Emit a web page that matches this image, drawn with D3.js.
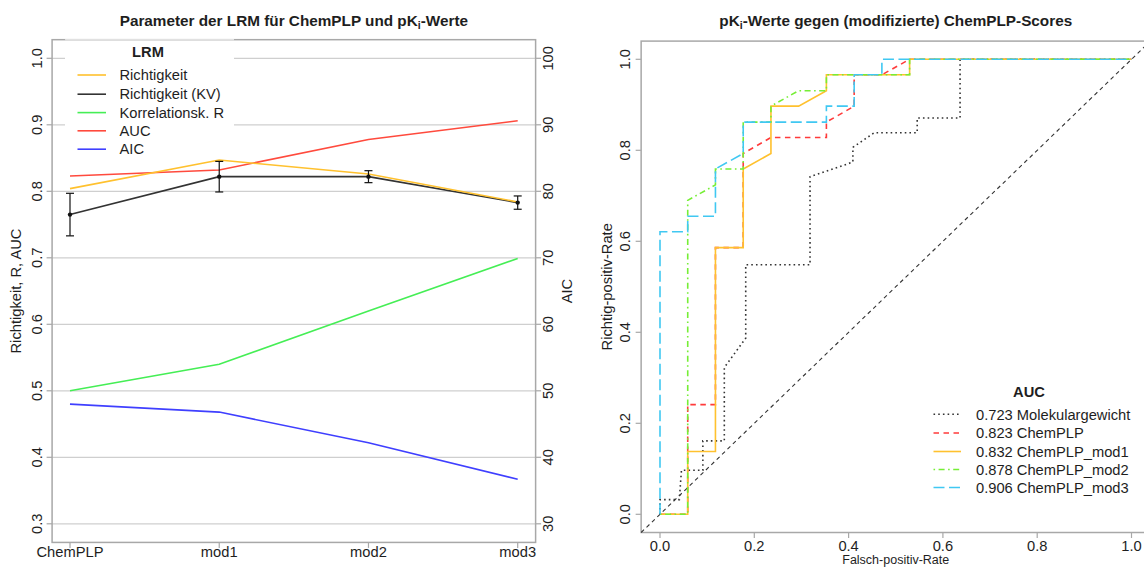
<!DOCTYPE html>
<html>
<head>
<meta charset="utf-8">
<script src="https://cdn.jsdelivr.net/npm/d3@7"></script>
<style>
  html, body { margin: 0; padding: 0; background: #fff; }
  svg { display: block; font-family: "Liberation Sans", Arial, Helvetica, sans-serif; }
</style>
</head>
<body>
<svg id="chart" width="1144" height="567"></svg>
<script>
// ---- Left panel: LRM parameters per scoring variant ----
const categories = ["ChemPLP", "mod1", "mod2", "mod3"];
const richtigkeit = [0.804, 0.847, 0.826, 0.784];
const richtigkeitKV = [0.765, 0.822, 0.822, 0.783];
const richtigkeitKVsd = [0.032, 0.023, 0.009, 0.010];
const korrelationR = [0.500, 0.540, 0.620, 0.699];
const aucLRM = [0.823, 0.832, 0.878, 0.906];
const aicValues = [48.0, 46.8, 42.2, 36.7];
const leftTicks = [0.3, 0.4, 0.5, 0.6, 0.7, 0.8, 0.9, 1.0];
const aicTicks = [30, 40, 50, 60, 70, 80, 90, 100];

// ---- Right panel: ROC curves (false positive rate, true positive rate) ----
const rocMolekulargewicht = [[0,0],[0,0.0323],[0.041,0.0323],[0.0455,0.0968],[0.0909,0.0968],[0.0909,0.1613],
  [0.1364,0.1613],[0.1364,0.3226],[0.1818,0.3871],[0.1818,0.5484],[0.3182,0.5484],[0.3182,0.7419],
  [0.4091,0.7742],[0.4091,0.8065],[0.4545,0.8387],[0.5455,0.8387],[0.5455,0.871],[0.6364,0.871],[0.6364,1],[1,1]];
const rocChemPLP = [[0,0],[0.0588,0],[0.0588,0.241],[0.1176,0.241],[0.1176,0.586],[0.1765,0.586],[0.1765,0.793],
  [0.2353,0.828],[0.3529,0.828],[0.3529,0.862],[0.4118,0.897],[0.4118,0.966],[0.4706,0.966],[0.5294,1],[1,1]];
const rocMod1 = [[0,0],[0.0588,0],[0.0588,0.138],[0.1176,0.138],[0.1176,0.586],[0.1765,0.586],[0.1765,0.759],
  [0.2353,0.793],[0.2353,0.897],[0.2941,0.897],[0.3529,0.931],[0.3529,0.966],[0.5294,0.966],[0.5294,1],[1,1]];
const rocMod2 = [[0,0],[0.0588,0],[0.0588,0.690],[0.1176,0.724],[0.1176,0.759],[0.1765,0.759],[0.1765,0.862],
  [0.2353,0.862],[0.2353,0.897],[0.2941,0.931],[0.3529,0.931],[0.3529,0.966],[0.5294,0.966],[0.5294,1],[1,1]];
const rocMod3 = [[0,0],[0,0.621],[0.0588,0.621],[0.0588,0.655],[0.1176,0.655],[0.1176,0.759],[0.1765,0.793],
  [0.1765,0.862],[0.3529,0.862],[0.3529,0.897],[0.4118,0.897],[0.4118,0.966],[0.4706,0.966],[0.4706,1],[1,1]];
const rocNames = ["Molekulargewicht", "ChemPLP", "ChemPLP_mod1", "ChemPLP_mod2", "ChemPLP_mod3"];
const rocAUC = ["0.723", "0.823", "0.832", "0.878", "0.906"];
const rocTicks = [0, 0.2, 0.4, 0.6, 0.8, 1.0];

const svg = d3.select("#chart");
const TXT = "#1e1e1e", BOX = "#a8a8a8", GRID = "#cfcfcf";
const FS = 14.7;

function vText(g, x, y, str, opts = {}) {
  // vertical text reading bottom to top, x is the baseline position
  return g.append("text")
    .attr("x", x).attr("y", y)
    .attr("transform", `rotate(-90,${x},${y})`)
    .attr("text-anchor", "middle")
    .attr("font-size", opts.size || FS)
    .attr("fill", TXT)
    .text(str);
}

// ================= LEFT PANEL =================
const L = svg.append("g");
const xL = d3.scalePoint().domain(categories).range([70, 517.7]);
const yL = d3.scaleLinear().domain([0.3, 1.0]).range([523.8, 58.3]);
const yAIC = d3.scaleLinear().domain([30, 100]).range([523.8, 58.3]);
const stepL = xL.step();
const boxL = { x0: 70 - 0.12 * stepL, x1: 517.7 + 0.12 * stepL, y0: yL(1.028), y1: yL(0.272) };

// horizontal grid
L.selectAll(".grid").data(leftTicks).enter().append("line")
  .attr("x1", boxL.x0).attr("x2", boxL.x1)
  .attr("y1", d => yL(d)).attr("y2", d => yL(d))
  .attr("stroke", GRID).attr("stroke-width", 1.2);

// legend background (covers the grid)
L.append("rect").attr("x", 65).attr("y", boxL.y0 + 0.4).attr("width", 169).attr("height", 157 - boxL.y0)
  .attr("fill", "#fff");

// box
L.append("rect").attr("x", boxL.x0).attr("y", boxL.y0)
  .attr("width", boxL.x1 - boxL.x0).attr("height", boxL.y1 - boxL.y0)
  .attr("fill", "none").attr("stroke", BOX).attr("stroke-width", 1.5);
L.append("line").attr("x1", boxL.x0 + 13).attr("x2", 234).attr("y1", boxL.y0).attr("y2", boxL.y0)
  .attr("stroke", "#fff").attr("stroke-width", 0.8);

// left axis
const axL = L.append("g");
axL.selectAll("line").data(leftTicks).enter().append("line")
  .attr("x1", boxL.x0 - 5.5).attr("x2", boxL.x0)
  .attr("y1", d => yL(d)).attr("y2", d => yL(d)).attr("stroke", BOX).attr("stroke-width", 1.2);
leftTicks.forEach(t => vText(axL, 42.5, yL(t), d3.format(".1f")(t)));
vText(L, 21, (boxL.y0 + boxL.y1) / 2, "Richtigkeit, R, AUC");

// right axis (AIC)
const axR = L.append("g");
axR.selectAll("line").data(aicTicks).enter().append("line")
  .attr("x1", boxL.x1).attr("x2", boxL.x1 + 5.5)
  .attr("y1", d => yAIC(d)).attr("y2", d => yAIC(d)).attr("stroke", BOX).attr("stroke-width", 1.2);
aicTicks.forEach(t => vText(axR, 553, yAIC(t), String(t)));
vText(L, 572, (boxL.y0 + boxL.y1) / 2, "AIC");

// bottom axis
const axB = L.append("g");
axB.selectAll("line").data(categories).enter().append("line")
  .attr("x1", d => xL(d)).attr("x2", d => xL(d))
  .attr("y1", boxL.y1).attr("y2", boxL.y1 + 5.5).attr("stroke", BOX).attr("stroke-width", 1.2);
axB.selectAll("text").data(categories).enter().append("text")
  .attr("x", d => xL(d)).attr("y", 557)
  .attr("text-anchor", "middle").attr("font-size", FS).attr("fill", TXT)
  .text(d => d);

// title
L.append("text").attr("x", (boxL.x0 + boxL.x1) / 2).attr("y", 25.5)
  .attr("text-anchor", "middle").attr("font-size", 15.3).attr("font-weight", "bold").attr("fill", TXT)
  .call(t => {
    t.append("tspan").text("Parameter der LRM für ChemPLP und pK");
    t.append("tspan").attr("font-size", 10.5).attr("dy", 3).text("i");
    t.append("tspan").attr("dy", -3).text("-Werte");
  });

// series lines
const lineL = (vals, ys) => d3.line().x((d, i) => xL(categories[i])).y(d => ys(d))(vals);
const leftSeries = [
  { name: "Richtigkeit", vals: richtigkeit, color: "#FFC12E", scale: yL },
  { name: "Richtigkeit (KV)", vals: richtigkeitKV, color: "#333333", scale: yL },
  { name: "Korrelationsk. R", vals: korrelationR, color: "#45EE55", scale: yL },
  { name: "AUC", vals: aucLRM, color: "#FF4A3D", scale: yL },
  { name: "AIC", vals: aicValues, color: "#3F3FFF", scale: yAIC }
];
// draw order: green, blue, red, black, orange on top
[2, 4, 3, 1, 0].forEach(k => {
  const s = leftSeries[k];
  L.append("path").attr("d", lineL(s.vals, s.scale))
    .attr("fill", "none").attr("stroke", s.color).attr("stroke-width", 1.6);
});

// error bars for cross-validated accuracy
const eb = L.append("g");
richtigkeitKV.forEach((v, i) => {
  const x = xL(categories[i]);
  const lo = yL(v - richtigkeitKVsd[i]), hi = yL(v + richtigkeitKVsd[i]);
  eb.append("line").attr("x1", x).attr("x2", x).attr("y1", lo).attr("y2", hi).attr("stroke", "#111").attr("stroke-width", 1.2);
  eb.append("line").attr("x1", x - 4).attr("x2", x + 4).attr("y1", lo).attr("y2", lo).attr("stroke", "#111").attr("stroke-width", 1.2);
  eb.append("line").attr("x1", x - 4).attr("x2", x + 4).attr("y1", hi).attr("y2", hi).attr("stroke", "#111").attr("stroke-width", 1.2);
  eb.append("circle").attr("cx", x).attr("cy", yL(v)).attr("r", 2.2).attr("fill", "#111");
});

// legend
const lgL = L.append("g");
lgL.append("text").attr("x", 148).attr("y", 57).attr("text-anchor", "middle")
  .attr("font-size", FS).attr("font-weight", "bold").attr("fill", TXT).text("LRM");
const lgRowsL = [75, 94.2, 112.6, 130.8, 149.2];
leftSeries.forEach((s, i) => {
  lgL.append("line").attr("x1", 77.5).attr("x2", 106).attr("y1", lgRowsL[i]).attr("y2", lgRowsL[i])
    .attr("stroke", s.color).attr("stroke-width", 1.6);
  lgL.append("text").attr("x", 119.5).attr("y", lgRowsL[i] + 5.2)
    .attr("font-size", FS).attr("fill", TXT).text(s.name);
});

// ================= RIGHT PANEL =================
const R = svg.append("g");
const xR = d3.scaleLinear().domain([0, 1]).range([660, 1131.5]);
const yR = d3.scaleLinear().domain([0, 1]).range([514.3, 59.3]);
const boxR = { x0: xR(-0.04), x1: xR(1.04), y0: yR(1.04), y1: yR(-0.04) };

R.append("rect").attr("x", boxR.x0).attr("y", boxR.y0)
  .attr("width", boxR.x1 - boxR.x0).attr("height", boxR.y1 - boxR.y0)
  .attr("fill", "none").attr("stroke", BOX).attr("stroke-width", 1.5);

// axes
R.selectAll(".yt").data(rocTicks).enter().append("line")
  .attr("x1", boxR.x0 - 5.5).attr("x2", boxR.x0)
  .attr("y1", d => yR(d)).attr("y2", d => yR(d)).attr("stroke", BOX).attr("stroke-width", 1.2);
rocTicks.forEach(t => vText(R, 630.5, yR(t), d3.format(".1f")(t)));
R.selectAll(".xt").data(rocTicks).enter().append("line")
  .attr("x1", d => xR(d)).attr("x2", d => xR(d))
  .attr("y1", boxR.y1).attr("y2", boxR.y1 + 5.5).attr("stroke", BOX).attr("stroke-width", 1.2);
R.selectAll(".xl").data(rocTicks).enter().append("text")
  .attr("x", d => xR(d)).attr("y", 551)
  .attr("text-anchor", "middle").attr("font-size", FS).attr("fill", TXT)
  .text(d => d3.format(".1f")(d));
vText(R, 612, (boxR.y0 + boxR.y1) / 2, "Richtig-positiv-Rate");
R.append("text").attr("x", (boxR.x0 + boxR.x1) / 2).attr("y", 564.3)
  .attr("text-anchor", "middle").attr("font-size", 12.5).attr("fill", TXT).text("Falsch-positiv-Rate");

// title
R.append("text").attr("x", (boxR.x0 + boxR.x1) / 2).attr("y", 25.5)
  .attr("text-anchor", "middle").attr("font-size", 15.3).attr("font-weight", "bold").attr("fill", TXT)
  .call(t => {
    t.append("tspan").text("pK");
    t.append("tspan").attr("font-size", 10.5).attr("dy", 3).text("i");
    t.append("tspan").attr("dy", -3).text("-Werte gegen (modifizierte) ChemPLP-Scores");
  });

// diagonal reference
R.append("line")
  .attr("x1", xR(-0.04)).attr("y1", yR(-0.04)).attr("x2", xR(1.04)).attr("y2", yR(1.04))
  .attr("stroke", "#333333").attr("stroke-width", 1.1).attr("stroke-dasharray", "4,3.5");

const rocStyles = [
  { data: rocMolekulargewicht, color: "#333333", dash: "1.6,3.1", w: 1.6 },
  { data: rocChemPLP, color: "#FF3B3B", dash: "5.5,4.5", w: 1.6 },
  { data: rocMod1, color: "#FFC12E", dash: null, w: 1.6 },
  { data: rocMod2, color: "#76EE36", dash: "1.6,3.5,6,3.5", w: 1.6 },
  { data: rocMod3, color: "#40C8F2", dash: "11,4.5", w: 1.6 }
];
const rocLine = d3.line().x(d => xR(d[0])).y(d => yR(d[1]));
rocStyles.forEach(s => {
  const p = R.append("path").attr("d", rocLine(s.data))
    .attr("fill", "none").attr("stroke", s.color).attr("stroke-width", s.w);
  if (s.dash) p.attr("stroke-dasharray", s.dash);
});

// legend
const lgR = R.append("g");
lgR.append("text").attr("x", 1029).attr("y", 397).attr("text-anchor", "middle")
  .attr("font-size", FS).attr("font-weight", "bold").attr("fill", TXT).text("AUC");
const lgRowsR = [414.3, 433, 451.5, 469.5, 487.5];
rocStyles.forEach((s, i) => {
  const ln = lgR.append("line").attr("x1", 933.5).attr("x2", 961).attr("y1", lgRowsR[i]).attr("y2", lgRowsR[i])
    .attr("stroke", s.color).attr("stroke-width", s.w);
  if (s.dash) ln.attr("stroke-dasharray", s.dash);
  lgR.append("text").attr("x", 976).attr("y", lgRowsR[i] + 5.2)
    .attr("font-size", FS).attr("fill", TXT).text(rocAUC[i] + " " + rocNames[i]);
});
</script>
</body>
</html>
